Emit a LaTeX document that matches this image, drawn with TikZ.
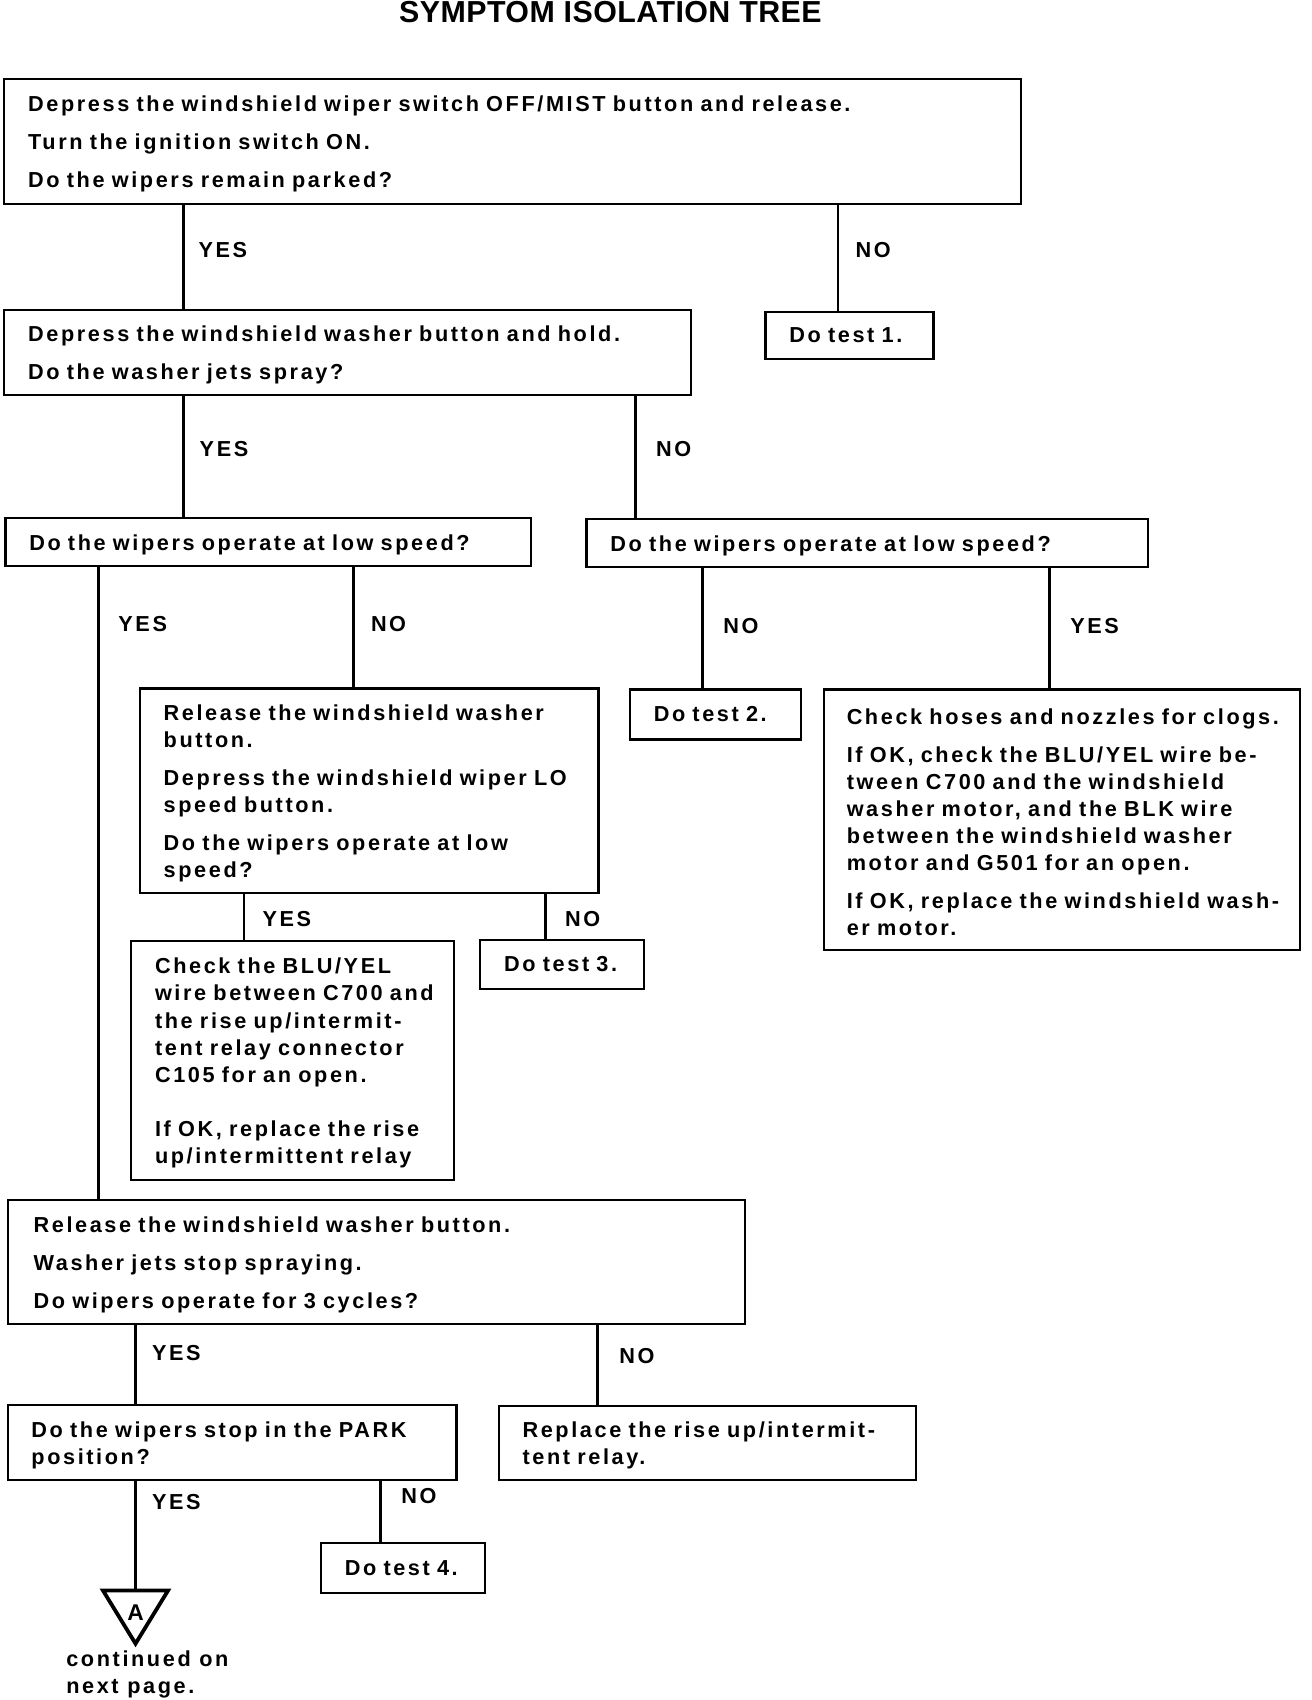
\documentclass[tikz,border=0pt]{standalone}
\usepackage{fontspec}
\setmainfont{Liberation Sans}[LetterSpace=12]
\newfontfamily\titlefont{Liberation Sans}[LetterSpace=1.5]
\newcommand\Lx[1]{\mbox{#1}}
\begin{document}
\begin{tikzpicture}[x=1pt,y=-1pt,
  txt/.style={font=\bfseries\fontsize{20}{25}\selectfont},
  tbox/.style={txt, draw, line width=2pt, anchor=north west, inner xsep=22pt, inner ysep=0pt, align=left},
  box/.style={tbox, execute at begin node={\rule{0pt}{19.5pt}}},
  bw/.style={minimum width=#1pt, text width=#1pt-44pt},
  bh/.style={minimum height=#1pt},
  conn/.style={line width=2.6pt},
  lbl/.style={txt, anchor=west, inner sep=0pt}]
\useasboundingbox (0,0) rectangle (1210,1568);

\node[anchor=north, inner sep=0pt, font=\titlefont\bfseries\fontsize{28}{30}\selectfont] (title) at (563,1) {SYMPTOM ISOLATION TREE};

% boxes
\node[box, bw=938, bh=115] (b1) at (3,72) {\Lx{Depress the windshield wiper switch OFF/MIST button and release.}\\[10pt]\Lx{Turn the ignition switch ON.}\\[10pt]\Lx{Do the wipers remain parked?}};
\node[tbox, bw=155, bh=43] (t1) at (705,287) {\Lx{Do test 1.}};
\node[box, bw=633, bh=78] (b2) at (3,285) {\Lx{Depress the windshield washer button and hold.}\\[10pt]\Lx{Do the washer jets spray?}};
\node[box, bw=485, bh=44] (b3) at (4,477) {\Lx{Do the wipers operate at low speed?}};
\node[box, bw=518, bh=44] (b4) at (540,478) {\Lx{Do the wipers operate at low speed?}};
\node[box, bw=423, bh=189] (b5) at (128,634) {\Lx{Release the windshield washer}\\\Lx{button.}\\[10pt]\Lx{Depress the windshield wiper LO}\\\Lx{speed button.}\\[10pt]\Lx{Do the wipers operate at low}\\\Lx{speed?}};
\node[tbox, bw=158, bh=46] (t2) at (580,635) {\Lx{Do test 2.}};
\node[box, bw=439, bh=240, inner xsep=21pt, text width=397pt] (b6) at (759,635) {\Lx{Check hoses and nozzles for clogs.}\\[10pt]\Lx{If OK, check the BLU/YEL wire be-}\\\Lx{tween C700 and the windshield}\\\Lx{washer motor, and the BLK wire}\\\Lx{between the windshield washer}\\\Lx{motor and G501 for an open.}\\[10pt]\Lx{If OK, replace the windshield wash-}\\\Lx{er motor.}};
\node[box, bw=298, bh=220] (b7) at (120,867) {\Lx{Check the BLU/YEL}\\\Lx{wire between C700 and}\\\Lx{the rise up/intermit-}\\\Lx{tent relay connector}\\\Lx{C105 for an open.}\\[25pt]\Lx{If OK, replace the rise}\\\Lx{up/intermittent relay}};
\node[tbox, bw=151, bh=45] (t3) at (442,866) {\Lx{Do test 3.}};
\node[box, bw=680, bh=114, inner xsep=24pt, text width=632pt] (b8) at (6,1106) {\Lx{Release the windshield washer button.}\\[10pt]\Lx{Washer jets stop spraying.}\\[10pt]\Lx{Do wipers operate for 3 cycles?}};
\node[box, bw=414, bh=69] (b9) at (6,1295) {\Lx{Do the wipers stop in the PARK}\\\Lx{position?}};
\node[box, bw=385, bh=68] (b10) at (459,1296) {\Lx{Replace the rise up/intermit-}\\\Lx{tent relay.}};
\node[tbox, bw=151, bh=46] (t4) at (295,1422) {\Lx{Do test 4.}};

% off-page connector
\coordinate (triTop) at (125,1467);
\draw[line width=3.5pt, line join=miter] (95,1467) -- (155,1467) -- (125,1516) -- cycle;
\node[inner sep=0pt, font=\bfseries\fontsize{21}{24}\selectfont] (A) at (125,1487) {A};
\node[txt, anchor=north west, inner sep=0pt, align=left] (cont) at (61,1522) {continued on\\next page.};

% connectors
\draw[conn] (169,0 |- b1.south) -- (169,0 |- b2.north);
\draw[conn] (773,0 |- b1.south) -- (773,0 |- t1.north);
\draw[conn] (169,0 |- b2.south) -- (169,0 |- b3.north);
\draw[conn] (586,0 |- b2.south) -- (586,0 |- b4.north);
\draw[conn] (91,0 |- b3.south) -- (91,0 |- b8.north);
\draw[conn] (326,0 |- b3.south) -- (326,0 |- b5.north);
\draw[conn] (648,0 |- b4.south) -- (648,0 |- t2.north);
\draw[conn] (968,0 |- b4.south) -- (968,0 |- b6.north);
\draw[conn] (225,0 |- b5.south) -- (225,0 |- b7.north);
\draw[conn] (503,0 |- b5.south) -- (503,0 |- t3.north);
\draw[conn] (125,0 |- b8.south) -- (125,0 |- b9.north);
\draw[conn] (551,0 |- b8.south) -- (551,0 |- b10.north);
\draw[conn] (125,0 |- b9.south) -- (triTop);
\draw[conn] (351,0 |- b9.south) -- (351,0 |- t4.north);

% labels
\node[lbl] (l1) at (183,231) {YES};
\node[lbl] (l2) at (789,231) {NO};
\node[lbl] (l3) at (184,414) {YES};
\node[lbl] (l4) at (605,414) {NO};
\node[lbl] (l5) at (109,576) {YES};
\node[lbl] (l6) at (342,576) {NO};
\node[lbl] (l7) at (667,577) {NO};
\node[lbl] (l8) at (987,577) {YES};
\node[lbl] (l9) at (242,848) {YES};
\node[lbl] (l10) at (521,848) {NO};
\node[lbl] (l11) at (140,1248) {YES};
\node[lbl] (l12) at (571,1251) {NO};
\node[lbl] (l13) at (140,1385) {YES};
\node[lbl] (l14) at (370,1380) {NO};
\end{tikzpicture}
\end{document}
